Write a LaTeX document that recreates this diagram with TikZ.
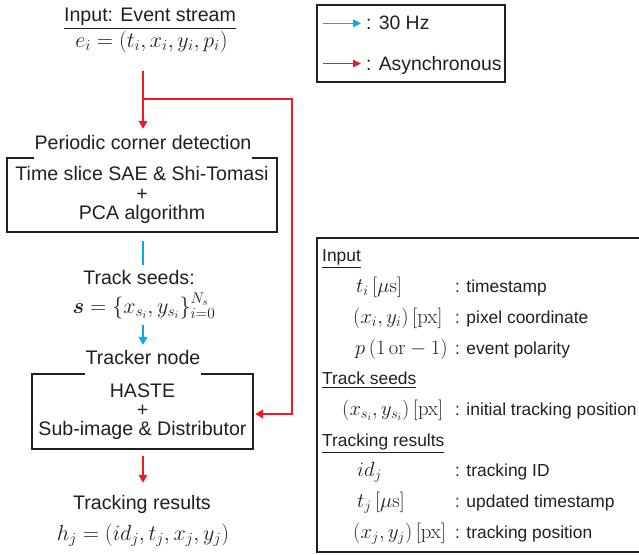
\RequirePackage{fix-cm}
\documentclass[tikz,border=0pt]{standalone}
\usepackage[no-math]{fontspec}
\setmainfont{Liberation Sans}
\usepackage{amsmath}
\usetikzlibrary{arrows.meta}
\definecolor{ink}{RGB}{35,31,32}
\definecolor{asyncred}{RGB}{237,28,36}
\definecolor{hzblue}{RGB}{0,174,239}
\tikzset{
  every node/.style={text=ink, inner sep=0pt},
  big/.style={font=\fontsize{19.6}{19.3}\selectfont},
  small/.style={font=\fontsize{17.4}{20}\selectfont},
  bigmath/.style={font=\fontsize{22}{22}\selectfont, anchor=base},
  smallmath/.style={font=\fontsize{20.6}{22}\selectfont, anchor=base west},
  stagebox/.style={big, draw=ink, line width=1.3pt, align=center},
  boxtitle/.style={big, fill=white, anchor=base, inner xsep=1pt},
  label/.style={big, anchor=base},
  tip/.style={-{Triangle[length=8pt,width=8.5pt]}},
  asyncline/.style={draw=asyncred, line width=2pt},
  hzline/.style={draw=hzblue, line width=2pt},
  entry/.style={small, anchor=base west},
}
\begin{document}
\begin{tikzpicture}[x=1pt, y=-1pt]
\useasboundingbox (0,0) rectangle (639,554);

% main pipeline
\node[label] (inp) at (150,21) {\underline{Input: Event stream}};
\node[bigmath, text depth=24pt] (ev) at (151.5,47) {$e_i=(t_i,x_i,y_i,p_i)$};

\node[stagebox, minimum width=270pt, minimum height=74pt] (cd) at (142,195)
  {Time slice SAE \& Shi-Tomasi\\+\\PCA algorithm};
\node[boxtitle, text height=20pt, text depth=11pt] (cdt) at (143,149) {Periodic corner detection};

\node[label, text height=19pt] (seeds) at (139,284) {Track seeds:};
\node[bigmath, text depth=12pt] (sm) at (144,313) {$\boldsymbol{s}=\{x_{s_i},y_{s_i}\}_{i=0}^{N_s}$};

\node[stagebox, minimum width=221pt, minimum height=75pt] (tn) at (142.5,411.5)
  {HASTE\\+\\Sub-image \& Distributor};
\node[boxtitle, text height=19pt, text depth=12pt] (tnt) at (143,364) {Tracker node};

\node[label, text height=26pt] (res) at (142,509) {Tracking results};
\node[bigmath] (hj) at (143,540) {$h_j=(id_j,t_j,x_j,y_j)$};

% connectors
\coordinate (split) at (143,99);
\coordinate (turn) at (292,99);
\draw[asyncline, tip] (ev.south -| cdt.north) -- (cdt.north);
\draw[asyncline, tip, shorten >=1.5pt] (split) -- (turn) |- ([yshift=-2.5pt]tn.east);
\draw[hzline, shorten <=8pt] (cd.south -| cdt.north) -- (seeds.north -| cdt.north);
\draw[hzline, tip] (sm.south -| cdt.north) -- (tnt.north);
\draw[asyncline, tip, shorten <=6pt] (tn.south -| cdt.north) -- (res.north -| cdt.north);

% rate legend
\node[draw=ink, line width=1.6pt, minimum width=188pt, minimum height=77pt] (rates) at (411,43.5) {};
\coordinate (hzA) at (323,23.3);
\coordinate (hzB) at (361,23.3);
\coordinate (asA) at (323,63.5);
\coordinate (asB) at (361,63.5);
\draw[hzline, line width=1.6pt, -{Triangle[length=8pt,width=7.5pt]}] (hzA) -- (hzB);
\draw[asyncline, line width=1.6pt, -{Triangle[length=8pt,width=7.5pt]}] (asA) -- (asB);
\node[font=\fontsize{19.4}{20}\selectfont, anchor=base west] (hzt) at (366,29) {: 30 Hz};
\node[font=\fontsize{19.4}{20}\selectfont, anchor=base west] (ast) at (366,70) {: Asynchronous};

% symbol legend
\draw[draw=ink, line width=2pt] (316.5,238) rectangle (648,551.5);
\node[entry] (h1) at (322,261.5) {\underline{Input}};
\node[smallmath] (m1) at (356,292.5) {$t_i\,[\mu\mathrm{s}]$};
\node[entry] (d1) at (455,292.5) {: timestamp};
\node[smallmath] (m2) at (353,323) {$(x_i,y_i)\,[\mathrm{px}]$};
\node[entry] (d2) at (455,323) {: pixel coordinate};
\node[smallmath] (m3) at (355,354) {$p\,(1\,\mathrm{or}-1)$};
\node[entry] (d3) at (455,354) {: event polarity};
\node[entry] (h2) at (322,384.5) {\underline{Track seeds}};
\node[smallmath] (m4) at (342,415) {$(x_{s_i},y_{s_i})\,[\mathrm{px}]$};
\node[entry] (d4) at (455,415) {: initial tracking position};
\node[entry] (h3) at (322,446) {\underline{Tracking results}};
\node[smallmath] (m5) at (357,476.5) {$id_j$};
\node[entry] (d5) at (455,476.5) {: tracking ID};
\node[smallmath] (m6) at (357,507) {$t_j\,[\mu\mathrm{s}]$};
\node[entry] (d6) at (455,507) {: updated timestamp};
\node[smallmath] (m7) at (353,538) {$(x_j,y_j)\,[\mathrm{px}]$};
\node[entry] (d7) at (455,538) {: tracking position};
\end{tikzpicture}
\end{document}
